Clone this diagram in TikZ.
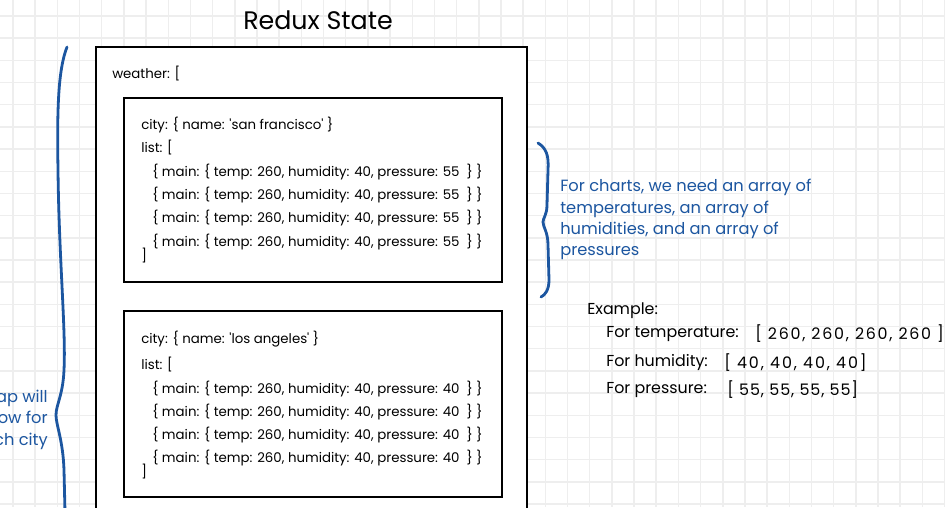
\documentclass[tikz,border=0pt]{standalone}
\usepackage{fontspec}
\setmainfont{Poppins}
\usepackage{tikz}
\usetikzlibrary{positioning}
\definecolor{inkblue}{RGB}{28,86,160}
\definecolor{gridgray}{RGB}{238,238,238}
\tikzset{
  gridline/.style={draw=gridgray, line width=1.1pt},
  frame/.style={draw=black, line width=2.1pt, fill=white},
  brace/.style={draw=inkblue, line width=2.1pt, line cap=round},
  codeline/.style={anchor=west, inner sep=0pt, font=\fontsize{10}{12}\selectfont},
  note/.style={inner sep=0pt, text=inkblue, font=\fontsize{12.2}{16}\selectfont},
  sample/.style={anchor=west, inner sep=0pt, font=\fontsize{11.9}{14}\selectfont},
  values/.style={sample, font=\fontsize{11.9}{14}\selectfont\addfontfeatures{LetterSpace=#1}},
  values/.default=6
}

\begin{document}
\begin{tikzpicture}[x=0.75pt,y=-0.75pt]
  \useasboundingbox (0,0) rectangle (945,507);
  \clip (0,0) rectangle (945,507);
  \fill[white] (0,0) rectangle (945,507);
  \foreach \gx in {0,...,42}{\draw[gridline] ({13+22.18*\gx},0)--({13+22.18*\gx},507);}
  \foreach \gy in {0,...,22}{\draw[gridline] (0,{16+22.18*\gy})--(945,{16+22.18*\gy});}
  \node[font=\fontsize{19}{21}\selectfont] (title) at (318,20) {Redux State};
  \draw[frame] (96,47) rectangle (527,530);
  \node[codeline] (weather) at (112,74) {weather: [};
  % san francisco
  \draw[frame] (124,98) rectangle (502,282);
  \node[codeline] (sfcity) at (141,125) {city: \{ name: \textquotesingle san francisco\textquotesingle\ \}};
  \node[codeline] (sflist) at (141,148) {list: [};
  \foreach \ly [count=\i] in {172,195,218,242}{\node[codeline] (sfmain\i) at (152,\ly) {\{ main: \{ temp: 260, humidity: 40, pressure: 55 \ \} \}};}
  \node[codeline] (sfend) at (141,256) {]};
  % los angeles
  \draw[frame] (124,311) rectangle (502,497);
  \node[codeline] (lacity) at (141,339) {city: \{ name: \textquotesingle los angeles\textquotesingle\ \}};
  \node[codeline] (lalist) at (141,365) {list: [};
  \foreach \ly [count=\i] in {389,412,435,458}{\node[codeline] (lamain\i) at (152,\ly) {\{ main: \{ temp: 260, humidity: 40, pressure: 40 \ \} \}};}
  \node[codeline] (laend) at (141,472) {]};
  % braces
  \draw[brace] (67,47) .. controls (58,70) and (57,110) .. (58,170) .. controls (59,260) and (66,330) .. (64,370) .. controls (63,395) and (56,405) .. (56,415) .. controls (56,425) and (63,440) .. (64,470) -- (65,512);
  \draw[brace] (538,143) .. controls (546,148) and (549,155) .. (548,170) -- (547,205) .. controls (547,215) and (543,218) .. (543,222) .. controls (543,227) and (548,232) .. (548,245) -- (549,280) .. controls (549,290) and (545,295) .. (541,297);
  \node[note, anchor=north east, align=right] (rowtext) at (48,390) {ap will\\ow for\\ch city};
  \node[note, anchor=north west, align=left] (charttext) at (560,179) {For charts, we need an array of\\temperatures, an array of\\humidities, and an array of\\pressures};
  \node[sample] (example) at (587,311) {Example:};
  \node[sample] (fortemp) at (606,334) {For temperature:};
  \node[values=11] (temps) at (755,334) {[ 260, 260, 260, 260 ]};
  \node[sample] (forhum) at (606,363) {For humidity:};
  \node[values=12] (hums) at (724,363) {[ 40, 40, 40, 40]};
  \node[sample] (forpres) at (606,390) {For pressure:};
  \node[values] (press) at (727,390) {[ 55, 55, 55, 55]};
\end{tikzpicture}
\end{document}
